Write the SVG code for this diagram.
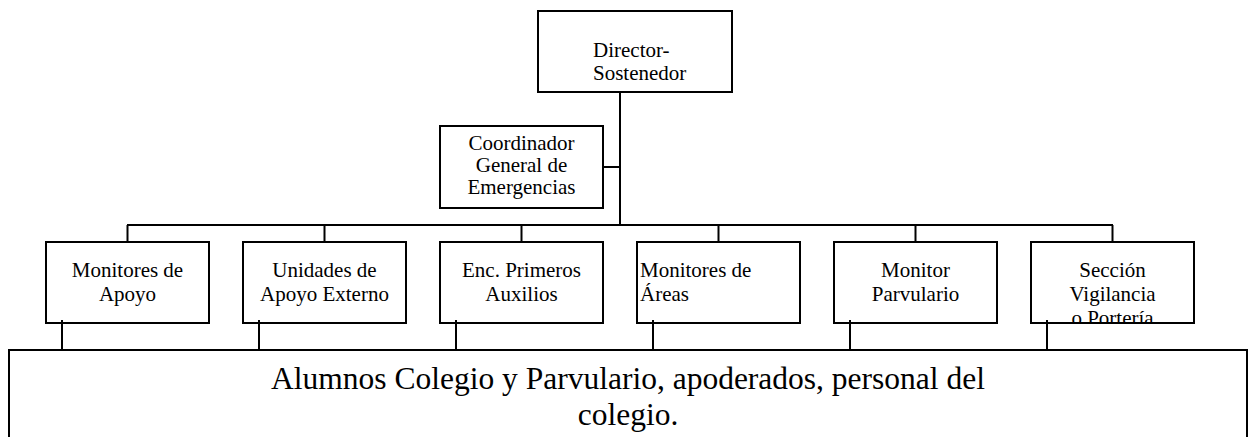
<svg xmlns="http://www.w3.org/2000/svg" width="1248" height="437" viewBox="0 0 1248 437" font-family="'Liberation Serif', 'Times New Roman', Times, serif">
<style>
.box{fill:#fff;stroke:#000;stroke-width:2}
.big{fill:#fff;stroke:#000;stroke-width:2}
.ln{fill:none;stroke:#000;stroke-width:2}
text{font-family:'Liberation Serif', 'Times New Roman', Times, serif;fill:#000}
.t{font-size:21px;text-anchor:middle}
.tl{font-size:21px;text-anchor:start}
.tb{font-size:31.5px;text-anchor:middle}
</style>
<defs>
<clipPath id="c6"><rect x="1031" y="242" width="163" height="80"/></clipPath>
</defs>
<g id="connectors">
<line class="ln" x1="620" y1="92" x2="620" y2="225"/>
<line class="ln" x1="603" y1="167" x2="620" y2="167"/>
<line class="ln" x1="127" y1="225" x2="1113" y2="225"/>
<line class="ln" x1="127.5" y1="225" x2="127.5" y2="242"/>
<line class="ln" x1="324.5" y1="225" x2="324.5" y2="242"/>
<line class="ln" x1="521.5" y1="225" x2="521.5" y2="242"/>
<line class="ln" x1="718.5" y1="225" x2="718.5" y2="242"/>
<line class="ln" x1="915.5" y1="225" x2="915.5" y2="242"/>
<line class="ln" x1="1112.5" y1="225" x2="1112.5" y2="242"/>
</g>
<g id="director">
<rect class="box" x="538" y="11" width="194" height="81"/>
<text class="tl" x="593" y="57">Director-</text>
<text class="tl" x="593" y="80">Sostenedor</text>
</g>
<g id="coordinador">
<rect class="box" x="440" y="126" width="163" height="82"/>
<text class="t" x="521.5" y="150">Coordinador</text>
<text class="t" x="521.5" y="172">General de</text>
<text class="t" x="521.5" y="194">Emergencias</text>
</g>
<g id="alumnos">
<rect class="big" x="9" y="350" width="1238" height="100"/>
<text class="tb" x="628" y="389">Alumnos Colegio y Parvulario, apoderados, personal del</text>
<text class="tb" x="628" y="425">colegio.</text>
</g>
<g id="monitores-apoyo">
<rect class="box" x="46" y="242" width="163" height="81"/>
<text class="t" x="127.5" y="277">Monitores de</text>
<text class="t" x="127.5" y="301">Apoyo</text>
</g>
<g id="unidades-apoyo">
<rect class="box" x="243" y="242" width="163" height="81"/>
<text class="t" x="324.5" y="277">Unidades de</text>
<text class="t" x="324.5" y="301">Apoyo Externo</text>
</g>
<g id="primeros-auxilios">
<rect class="box" x="440" y="242" width="163" height="81"/>
<text class="t" x="521.5" y="277">Enc. Primeros</text>
<text class="t" x="521.5" y="301">Auxilios</text>
</g>
<g id="monitores-areas">
<rect class="box" x="637" y="242" width="163" height="81"/>
<text class="tl" x="640" y="277">Monitores de</text>
<text class="tl" x="640" y="301">Áreas</text>
</g>
<g id="monitor-parvulario">
<rect class="box" x="834" y="242" width="163" height="81"/>
<text class="t" x="915.5" y="277">Monitor</text>
<text class="t" x="915.5" y="301">Parvulario</text>
</g>
<g id="seccion-vigilancia">
<rect class="box" x="1031" y="242" width="163" height="81"/>
<g clip-path="url(#c6)">
<text class="t" x="1112.5" y="277">Sección</text>
<text class="t" x="1112.5" y="301">Vigilancia</text>
<text class="t" x="1112.5" y="325">o Portería</text>
</g>
</g>
<g id="lower-connectors">
<line class="ln" x1="62" y1="320" x2="62" y2="350"/>
<line class="ln" x1="259" y1="320" x2="259" y2="350"/>
<line class="ln" x1="456" y1="320" x2="456" y2="350"/>
<line class="ln" x1="653" y1="320" x2="653" y2="350"/>
<line class="ln" x1="850" y1="320" x2="850" y2="350"/>
<line class="ln" x1="1047" y1="320" x2="1047" y2="350"/>
</g>
</svg>
